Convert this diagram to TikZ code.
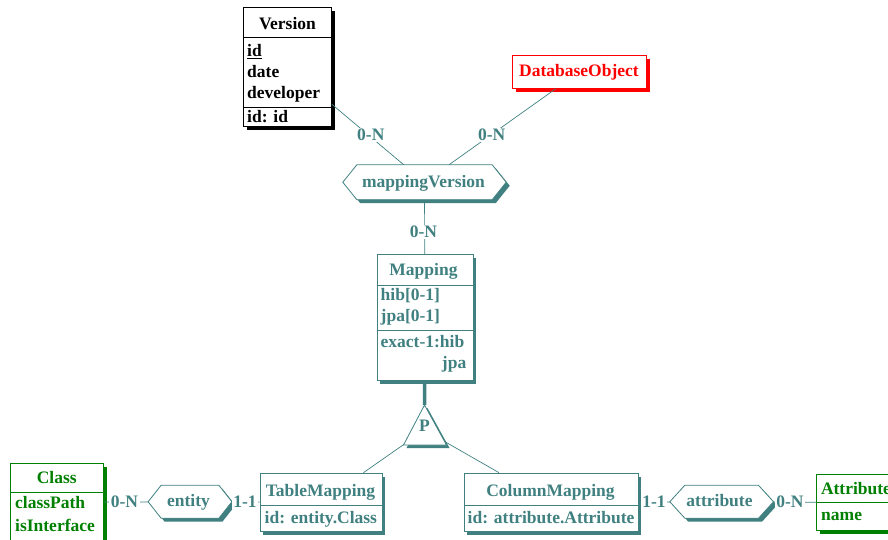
\documentclass[tikz,border=0pt]{standalone}
\usepackage{fontspec}
\setmainfont{Liberation Serif}
\usetikzlibrary{shadows,calc}
\definecolor{tl}{RGB}{64,128,128}
\definecolor{gr}{RGB}{0,128,0}
\definecolor{rd}{RGB}{255,0,0}
\begin{document}
\begin{tikzpicture}[x=1pt,y=-1pt,
  every node/.style={font=\fontsize{17.5}{20}\selectfont\bfseries, inner sep=0pt},
  box/.style={draw=#1, fill=white, line width=0.8pt, anchor=north west,
    drop shadow={shadow xshift=3.5pt, shadow yshift=-3.5pt, fill=#1, opacity=1}},
  txt/.style={text=#1, anchor=base west},
  ctxt/.style={text=#1, anchor=base},
  rtxt/.style={text=#1, anchor=base east},
  card/.style={text=tl, fill=white, inner xsep=1.5pt, inner ysep=1pt},
  conn/.style={draw=tl, line width=0.7pt},
  sep/.style={draw=#1, line width=0.8pt},
  hexbox/.style={draw=none},
]
\clip (0,0) rectangle (888,540);

% ---------- hexagon anchor boxes ----------
\node[hexbox, minimum width=163pt, minimum height=34.5pt] (mv) at (424.5,182.25) {};
\node[hexbox, minimum width=83.4pt, minimum height=32.5pt] (en) at (190,501.75) {};
\node[hexbox, minimum width=103.3pt, minimum height=32.5pt] (attr) at (721.65,501.75) {};

% ---------- entity boxes ----------
\node[box=black, minimum width=88pt, minimum height=119pt] (version) at (243,7) {};
\node[box=rd, minimum width=134pt, minimum height=33pt] (db) at (512,55) {};
\node[box=tl, minimum width=96pt, minimum height=126pt] (mapping) at (376.5,254) {};
\node[box=tl, minimum width=122pt, minimum height=58.6pt] (tm) at (259.5,472.7) {};
\node[box=tl, minimum width=174pt, minimum height=58.6pt] (cm) at (463.5,472.7) {};
\node[box=gr, minimum width=93.3pt, minimum height=78.3pt] (cls) at (10,462.7) {};
\node[box=gr, minimum width=80pt, minimum height=56pt] (attb) at (816,474) {};

% ---------- IS-A triangle ----------
\coordinate (tri) at (424.5,430);
\coordinate (apex) at ($(tri)+(0,-25)$);

% ---------- connectors ----------
\draw[conn] (version) -- (mv);
\draw[conn] (db) -- (mv);
\draw[conn] (mv) -- (mapping);
\draw[tl, line width=3.5pt] (mapping) -- (apex);
\draw[conn, shorten <=25pt] (tri) -- (tm);
\draw[conn, shorten <=23pt] (tri) -- (cm);
\draw[conn] (cls) -- (en);
\draw[conn] (en) -- (tm);
\draw[conn] (cm) -- (attr);
\draw[conn] (attr) -- (attb);

% ---------- hexagons ----------
\foreach \n/\d in {mv/14, en/13, attr/15}{
  \fill[tl] ($(\n.west)+(3.5,3.5)$) -- ($(\n.north west)+(\d+3.5,3.5)$) -- ($(\n.north east)+(-\d+3.5,3.5)$)
     -- ($(\n.east)+(3.5,3.5)$) -- ($(\n.south east)+(-\d+3.5,3.5)$) -- ($(\n.south west)+(\d+3.5,3.5)$) -- cycle;
  \filldraw[fill=white, draw=tl, line width=0.8pt] (\n.west) -- ($(\n.north west)+(\d,0)$) -- ($(\n.north east)+(-\d,0)$)
     -- (\n.east) -- ($(\n.south east)+(-\d,0)$) -- ($(\n.south west)+(\d,0)$) -- cycle;
}
\node[ctxt=tl] (mvt) at (423.5,187) {mappingVersion};
\node[ctxt=tl] (ent) at (188.5,506) {entity};
\node[ctxt=tl] (attrt) at (719.5,506) {attribute};

% triangle
\fill[tl] ($(tri)+(3,-22)$) -- ($(tri)+(-18,18)$) -- ($(tri)+(25,18)$) -- cycle;
\filldraw[fill=white, draw=tl, line width=0.8pt] (apex) -- ($(tri)+(-21,15)$) -- ($(tri)+(22,15)$) -- cycle;
\node[ctxt=tl] (ptxt) at (424.5,431) {P};

% ---------- Version ----------
\draw[sep=black] ([yshift=-30.5pt]version.north west) -- ([yshift=-30.5pt]version.north east);
\draw[sep=black] ([yshift=-100.3pt]version.north west) -- ([yshift=-100.3pt]version.north east);
\node[ctxt=black] (vt) at (287.5,30) {Version};
\node[txt=black] (v1) at (247,56.5) {\underline{id}};
\node[txt=black] (v2) at (247,77.5) {date};
\node[txt=black] (v3) at (247,98.5) {developer};
\node[txt=black] (v4) at (247,123) {id: id};

% ---------- DatabaseObject ----------
\node[ctxt=rd] (dbt) at (579,76.5) {DatabaseObject};

% ---------- Mapping ----------
\draw[sep=tl] ([yshift=-31pt]mapping.north west) -- ([yshift=-31pt]mapping.north east);
\draw[sep=tl] ([yshift=-76.5pt]mapping.north west) -- ([yshift=-76.5pt]mapping.north east);
\node[ctxt=tl] (mt) at (423.5,275) {Mapping};
\node[txt=tl] (m1) at (380.5,300) {hib[0-1]};
\node[txt=tl] (m2) at (380.5,321) {jpa[0-1]};
\node[txt=tl] (m3) at (380.5,347) {exact-1:hib};
\node[rtxt=tl] (m4) at (466.5,368.5) {jpa};

% ---------- TableMapping ----------
\draw[sep=tl] ([yshift=-32.3pt]tm.north west) -- ([yshift=-32.3pt]tm.north east);
\node[ctxt=tl] (tmt) at (320.5,496) {TableMapping};
\node[txt=tl] (tm1) at (264.5,523) {id: entity.Class};

% ---------- ColumnMapping ----------
\draw[sep=tl] ([yshift=-32.3pt]cm.north west) -- ([yshift=-32.3pt]cm.north east);
\node[ctxt=tl] (cmt) at (550.5,496) {ColumnMapping};
\node[txt=tl] (cm1) at (467.5,523) {id: attribute.Attribute};

% ---------- Class ----------
\draw[sep=gr] ([yshift=-30pt]cls.north west) -- ([yshift=-30pt]cls.north east);
\node[ctxt=gr] (clt) at (56.7,483.3) {Class};
\node[txt=gr] (cl1) at (15,508.5) {classPath};
\node[txt=gr] (cl2) at (15,531) {isInterface};

% ---------- Attribute ----------
\draw[sep=gr] ([yshift=-28.3pt]attb.north west) -- ([yshift=-28.3pt]attb.north east);
\node[ctxt=gr] (abt) at (856,494.3) {Attribute};
\node[txt=gr] (ab1) at (821,520.7) {name};

% ---------- cardinalities ----------
\node[card] (c1) at (370.8,134.7) {0-N};
\node[card] (c2) at (491.7,134.7) {0-N};
\node[card] (c3) at (423.5,231.7) {0-N};
\node[card] (c4) at (124.5,501.8) {0-N};
\node[card] (c5) at (245,501.8) {1-1};
\node[card] (c6) at (654,501.8) {1-1};
\node[card] (c7) at (790,501.8) {0-N};
\end{tikzpicture}
\end{document}
